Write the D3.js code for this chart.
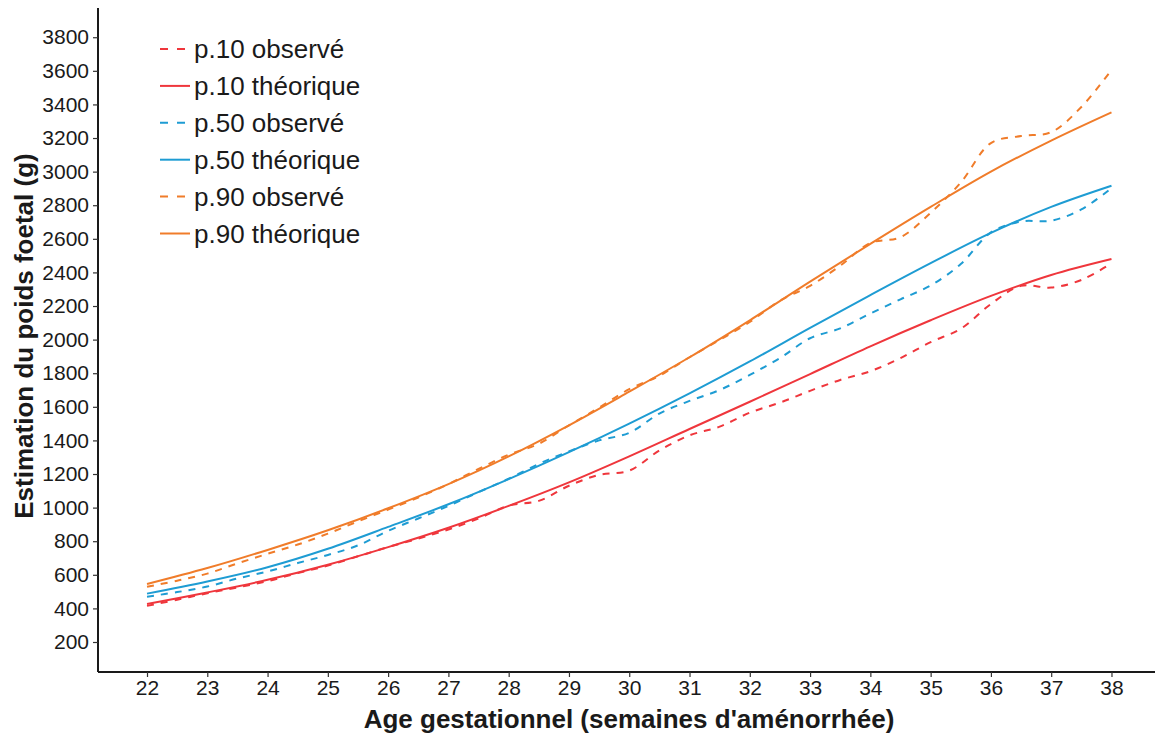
<!DOCTYPE html>
<html>
<head>
<meta charset="utf-8">
<script src="https://cdn.jsdelivr.net/npm/d3@7"></script>
<style>
  html, body { margin: 0; padding: 0; background: #fff; }
  svg { display: block; font-family: "Liberation Sans", Arial, Helvetica, sans-serif; }
</style>
</head>
<body>
<svg id="chart" width="1155" height="738"></svg>
<script>
// ---- Data ----
const weeks = [22,23,24,25,26,27,28,29,30,31,32,33,34,35,36,37,38];
const obsWeeks = [22,22.5,23,23.5,24,24.5,25,25.5,26,26.5,27,27.5,28,28.5,29,29.5,30,30.5,31,31.5,32,32.5,33,33.5,34,34.5,35,35.5,36,36.5,37,37.5,38];

const p10Theo = [426,495,570,660,765,880,1010,1150,1305,1468,1630,1795,1960,2115,2260,2385,2480];
const p50Theo = [488,560,645,755,885,1020,1170,1330,1500,1680,1870,2070,2265,2455,2635,2790,2916];
const p90Theo = [545,640,748,865,996,1140,1305,1490,1690,1895,2115,2345,2570,2790,3000,3185,3353];

const p10Obs = [415,452,490,525,562,610,655,710,765,815,870,935,1012,1040,1130,1195,1220,1340,1430,1482,1565,1625,1695,1760,1812,1890,1985,2065,2212,2320,2310,2355,2454];
const p50Obs = [470,497,530,578,620,670,718,775,862,935,1010,1092,1172,1260,1335,1400,1445,1560,1635,1700,1790,1890,2008,2067,2155,2240,2322,2450,2638,2703,2708,2775,2902];
const p90Obs = [529,565,607,668,725,780,845,918,988,1060,1140,1230,1315,1380,1490,1595,1705,1785,1895,1998,2105,2232,2320,2440,2575,2610,2755,2935,3170,3212,3235,3385,3605];

const yTicks = [200,400,600,800,1000,1200,1400,1600,1800,2000,2200,2400,2600,2800,3000,3200,3400,3600,3800];

const seriesNames = ["p.10 observé","p.10 théorique","p.50 observé","p.50 théorique","p.90 observé","p.90 théorique"];
const seriesColors = ["#EF363C","#EF363C","#1E9CD3","#1E9CD3","#F07C2A","#F07C2A"];
const seriesDashed = [true,false,true,false,true,false];

// ---- Build series ----
const series = [
  {x: obsWeeks, y: p10Obs}, {x: weeks, y: p10Theo},
  {x: obsWeeks, y: p50Obs}, {x: weeks, y: p50Theo},
  {x: obsWeeks, y: p90Obs}, {x: weeks, y: p90Theo}
].map((s, i) => ({
  name: seriesNames[i], color: seriesColors[i], dashed: seriesDashed[i],
  values: s.x.map((w, j) => ({w, v: s.y[j]}))
}));

const svg = d3.select("#chart");

const x = d3.scaleLinear().domain([21.187, 38.722]).range([98, 1155]);
const y = d3.scaleLinear().domain([21.4, 3974]).range([672, 8]);

// Axes
const xAxis = d3.axisBottom(x).tickValues(weeks).tickSize(5).tickPadding(3).tickFormat(d3.format("d"));
const yAxis = d3.axisLeft(y).tickValues(yTicks).tickSize(5).tickPadding(4).tickFormat(d3.format("d"));

const gx = svg.append("g").attr("transform", "translate(0,672)").call(xAxis);
const gy = svg.append("g").attr("transform", "translate(98,0)").call(yAxis);

[gx, gy].forEach(g => {
  g.select(".domain").attr("stroke", "#1a1a1a").attr("stroke-width", 2);
  g.selectAll(".tick line").attr("stroke", "#333").attr("stroke-width", 1.2);
  g.selectAll(".tick text").attr("fill", "#1a1a1a").style("font-size", "21px")
    .style("font-family", "'Liberation Sans', Arial, sans-serif");
});
gx.select(".domain").attr("d", "M98,0H1155");
gy.select(".domain").attr("d", "M0,8V672");

// Lines
const line = d3.line().x(d => x(d.w)).y(d => y(d.v)).curve(d3.curveCatmullRom.alpha(0.5));

svg.append("g").selectAll("path.series")
  .data(series)
  .join("path")
  .attr("class", "series")
  .attr("fill", "none")
  .attr("stroke", d => d.color)
  .attr("stroke-width", 2)
  .attr("stroke-dasharray", d => d.dashed ? "7,7" : null)
  .attr("d", d => line(d.values));

// Legend
const legend = svg.append("g");
const legendY0 = 49, legendStep = 36.9;
series.forEach((s, i) => {
  const ly = legendY0 + i * legendStep;
  legend.append("line")
    .attr("x1", 160).attr("x2", 190)
    .attr("y1", ly).attr("y2", ly)
    .attr("stroke", s.color).attr("stroke-width", 2)
    .attr("stroke-dasharray", s.dashed ? "8,9" : null);
  legend.append("text")
    .attr("x", 194).attr("y", ly)
    .attr("dy", "0.35em")
    .attr("fill", "#1a1a1a")
    .style("font-size", "26px")
    .text(s.name);
});

// Axis titles
svg.append("text")
  .attr("x", 629).attr("y", 728)
  .attr("text-anchor", "middle")
  .style("font-size", "26px").style("font-weight", "bold")
  .attr("fill", "#1a1a1a")
  .text("Age gestationnel (semaines d'aménorrhée)");

svg.append("text")
  .attr("transform", "translate(33,336) rotate(-90)")
  .attr("text-anchor", "middle")
  .style("font-size", "26px").style("font-weight", "bold")
  .attr("fill", "#1a1a1a")
  .text("Estimation du poids foetal (g)");
</script>
</body>
</html>
